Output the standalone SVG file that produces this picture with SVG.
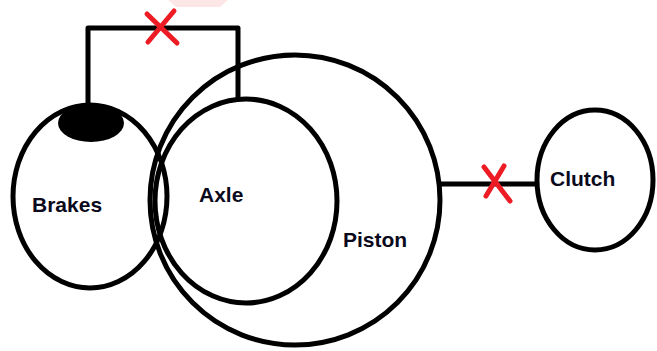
<svg xmlns="http://www.w3.org/2000/svg" width="657" height="351" viewBox="0 0 657 351">
<style>
.ring{fill:none;stroke:#000;stroke-width:5}
.wire{fill:none;stroke:#000;stroke-width:5;stroke-linejoin:round}
.cross{stroke:#ed1c24;stroke-width:5;stroke-linecap:round}
.lbl{font-family:"Liberation Sans",Arial,sans-serif;font-weight:bold;font-size:21px;fill:#0a0a1c}
</style>
<rect width="657" height="351" fill="#fff"/>
<polygon points="168,0 228,0 220,7 176,7" fill="#fbd5d5" opacity="0.6"/>
<g id="connectors">
<polyline class="wire" points="88,106 88,28 238,28 238,100"/>
<line class="wire" x1="440" y1="184" x2="537" y2="184"/>
<g id="cross-top">
<line class="cross" x1="147" y1="14" x2="177" y2="43"/>
<line class="cross" x1="174" y1="11" x2="148" y2="42"/>
</g>
<g id="cross-right">
<line class="cross" x1="484" y1="167" x2="510" y2="201"/>
<line class="cross" x1="504" y1="166" x2="486" y2="196"/>
</g>
</g>
<g id="brakes">
<ellipse class="ring" cx="90" cy="196.5" rx="77" ry="91.5"/>
<ellipse cx="91" cy="123" rx="33" ry="19" fill="#000"/>
<text class="lbl" x="32" y="212">Brakes</text>
</g>
<g id="axle">
<ellipse class="ring" cx="246" cy="201" rx="91" ry="102"/>
<text class="lbl" x="199" y="202">Axle</text>
</g>
<g id="piston">
<ellipse class="ring" cx="295" cy="200" rx="145" ry="145"/>
<text class="lbl" x="343" y="247">Piston</text>
</g>
<g id="clutch">
<ellipse class="ring" cx="595" cy="180" rx="58" ry="70"/>
<text class="lbl" x="550" y="186">Clutch</text>
</g>
</svg>
